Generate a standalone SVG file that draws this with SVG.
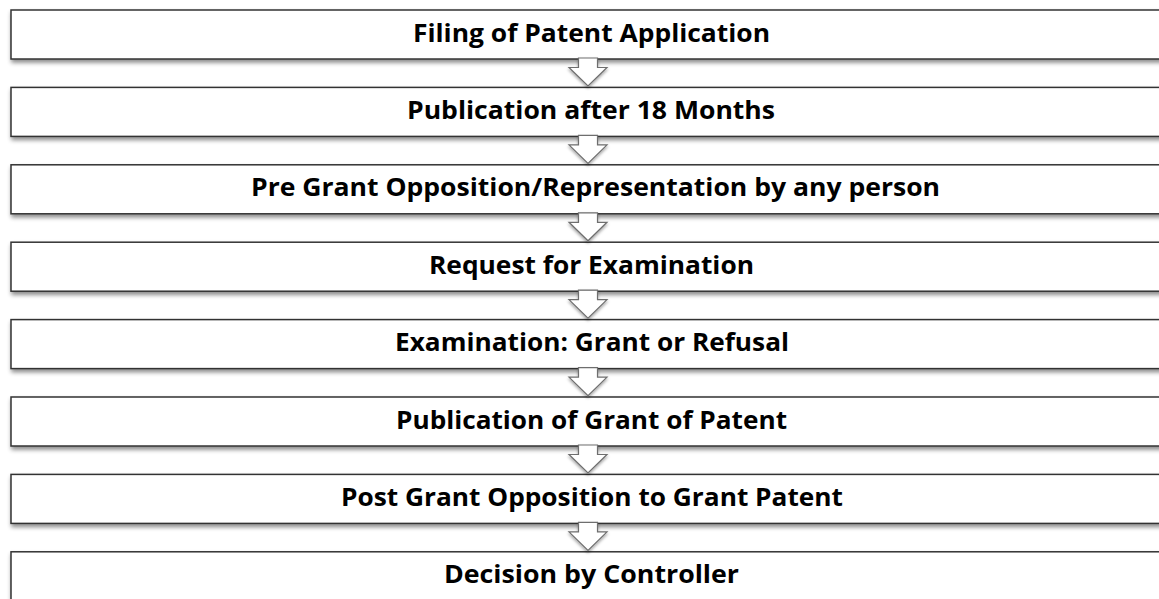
<svg xmlns="http://www.w3.org/2000/svg" width="1159" height="599" viewBox="0 0 1159 599">
<defs>
<filter id="sh" x="-5%" y="-30%" width="110%" height="170%">
<feDropShadow dx="1" dy="3" stdDeviation="2" flood-color="#000" flood-opacity="0.45"/>
</filter>
<filter id="ash" x="-50%" y="-50%" width="200%" height="200%">
<feDropShadow dx="0" dy="2" stdDeviation="1.5" flood-color="#000" flood-opacity="0.35"/>
</filter>
<path id="arr" d="M-9.5,-1 L9.5,-1 L9.5,8.5 L19,8.5 L0,27 L-19,8.5 L-9.5,8.5 Z"/>
</defs>
<style>
.box{fill:#fff;stroke:#333;stroke-width:1.5;filter:url(#sh)}
.lbl{font-family:"Open Sans","Liberation Sans",Arial,sans-serif;font-weight:bold;font-size:24.5px;fill:#000;text-anchor:middle}
.arrow{fill:#fff;stroke:#6e6e6e;stroke-width:1.2;filter:url(#ash)}
</style>
<rect width="1159" height="599" fill="#fff"/>
<g id="n1"><rect class="box" x="11" y="10" width="1160" height="49"/><text class="lbl" x="591.5" y="41.5" textLength="357" lengthAdjust="spacingAndGlyphs">Filing of Patent Application</text></g>
<g id="n2"><rect class="box" x="11" y="87.4" width="1160" height="49"/><text class="lbl" x="591" y="118.9" textLength="368" lengthAdjust="spacingAndGlyphs">Publication after 18 Months</text></g>
<g id="n3"><rect class="box" x="11" y="164.8" width="1160" height="49"/><text class="lbl" x="595.5" y="196.3" textLength="689" lengthAdjust="spacingAndGlyphs">Pre Grant Opposition/Representation by any person</text></g>
<g id="n4"><rect class="box" x="11" y="242.2" width="1160" height="49"/><text class="lbl" x="591.5" y="273.7" textLength="325" lengthAdjust="spacingAndGlyphs">Request for Examination</text></g>
<g id="n5"><rect class="box" x="11" y="319.6" width="1160" height="49"/><text class="lbl" x="592" y="351.1" textLength="394" lengthAdjust="spacingAndGlyphs">Examination: Grant or Refusal</text></g>
<g id="n6"><rect class="box" x="11" y="397" width="1160" height="49"/><text class="lbl" x="591.5" y="428.5" textLength="391" lengthAdjust="spacingAndGlyphs">Publication of Grant of Patent</text></g>
<g id="n7"><rect class="box" x="11" y="474.4" width="1160" height="49"/><text class="lbl" x="592" y="505.9" textLength="502" lengthAdjust="spacingAndGlyphs">Post Grant Opposition to Grant Patent</text></g>
<g id="n8"><rect class="box" x="11" y="551.8" width="1160" height="49"/><text class="lbl" x="591.5" y="583.3" textLength="295" lengthAdjust="spacingAndGlyphs">Decision by Controller</text></g>
<g id="connectors">
<use class="arrow" href="#arr" x="588" y="59"/>
<use class="arrow" href="#arr" x="588" y="136.4"/>
<use class="arrow" href="#arr" x="588" y="213.8"/>
<use class="arrow" href="#arr" x="588" y="291.2"/>
<use class="arrow" href="#arr" x="588" y="368.6"/>
<use class="arrow" href="#arr" x="588" y="446"/>
<use class="arrow" href="#arr" x="588" y="523.4"/>
</g>
</svg>
